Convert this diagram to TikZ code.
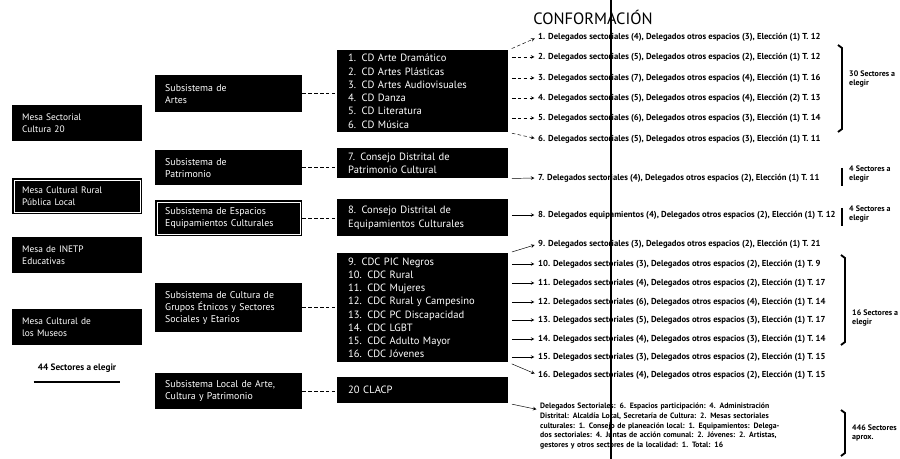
\documentclass[tikz,border=0pt]{standalone}
\usepackage{fontspec}
\setmainfont{PT Sans}

\begin{document}
\begin{tikzpicture}[x=0.03cm,y=-0.03cm,
    box/.style={fill=black,text=white,anchor=north west,align=left,inner xsep=0.3cm,inner ysep=0pt},
    mesa/.style={box,text width=3.3cm,minimum height=1.08cm,font=\fontsize{8}{9.5}\selectfont},
    subsis/.style={box,text width=3.81cm,font=\fontsize{8.4}{10.2}\selectfont},
    consejo/.style={box,inner xsep=0.33cm,text width=4.47cm,font=\fontsize{9}{11.3}\selectfont},
    row/.style={anchor=west,inner sep=0pt,font=\fontsize{7.4}{8}\selectfont\bfseries},
    cupo/.style={anchor=west,align=left,inner sep=0pt,font=\fontsize{6.8}{8}\selectfont\bfseries},
    link/.style={densely dashed,thick},
    llave/.style={line width=1.6pt}]
  \useasboundingbox (0,0) rectangle (900,459);

  % mesas
  \node[mesa] (mesa1) at (12,105) {Mesa Sectorial\\Cultura 20};
  \node[mesa] (mesa2) at (12,178) {Mesa Cultural Rural\\Pública Local};
  \node[mesa] (mesa3) at (12,237) {Mesa de INETP\\Educativas};
  \node[mesa] (mesa4) at (12,309) {Mesa Cultural de\\los Museos};
  \draw[white] ([shift={(2pt,-2pt)}]mesa2.north west) rectangle ([shift={(-2pt,2pt)}]mesa2.south east);
  \node[font=\fontsize{7.9}{9}\selectfont\bfseries] (elegir) at (77,368) {44 Sectores a elegir};
  \draw[line width=1.6pt] ([yshift=-5pt]elegir.south west) -- ([yshift=-5pt]elegir.south east);

  % subsistemas
  \node[subsis,minimum height=1.11cm] (artes) at (155,75) {Subsistema de\\Artes};
  \node[subsis,minimum height=1.05cm] (patrimonio) at (155,150) {Subsistema de\\Patrimonio};
  \node[subsis,minimum height=1.08cm] (espacios) at (155,200) {Subsistema de Espacios\\Equipamientos Culturales};
  \draw[white] ([shift={(2pt,-2pt)}]espacios.north west) rectangle ([shift={(-2pt,2pt)}]espacios.south east);
  \node[subsis,minimum height=1.47cm] (grupos) at (155,283) {Subsistema de Cultura de\\Grupos Étnicos y Sectores\\Sociales y Etarios};
  \node[subsis,minimum height=1.08cm] (local) at (155,373) {Subsistema Local de Arte,\\Cultura y Patrimonio};

  % consejos
  \node[consejo,minimum height=2.46cm] (cd) at (337,50) {1. CD Arte Dramático\\2. CD Artes Plásticas\\3. CD Artes Audiovisuales\\4. CD Danza\\5. CD Literatura\\6. CD Música};
  \node[consejo,minimum height=0.9cm] (cdpc) at (337,148) {7. Consejo Distrital de\\Patrimonio Cultural};
  \node[consejo,minimum height=1.11cm] (cdec) at (337,199) {8. Consejo Distrital de\\Equipamientos Culturales};
  \node[consejo,minimum height=3.27cm] (cdc) at (337,253) {9. CDC PIC Negros\\10. CDC Rural\\11. CDC Mujeres\\12. CDC Rural y Campesino\\13. CDC PC Discapacidad\\14. CDC LGBT\\15. CDC Adulto Mayor\\16. CDC Jóvenes};
  \node[consejo,minimum height=0.78cm] (clacp) at (337,377) {20 CLACP};

  \path[link]
    (artes.east) edge (artes.east -| cd.west)
    (patrimonio.east) edge (patrimonio.east -| cdpc.west)
    (espacios.east) edge (espacios.east -| cdec.west)
    (grupos.east) edge (grupos.east -| cdc.west)
    (local.east) edge (local.east -| clacp.west);

  % conformacion
  \node[font=\fontsize{14}{16}\selectfont] (titulo) at (593,17) {CONFORMACIÓN};
  \draw[line width=1.2pt] (611,0) -- (611,459);

  \foreach \n/\y/\txt in {
      1/37/{1. Delegados sectoriales (4), Delegados otros espacios (3), Elección (1) T. 12},
      2/57/{2. Delegados sectoriales (5), Delegados otros espacios (2), Elección (1) T. 12},
      3/78/{3. Delegados sectoriales (7), Delegados otros espacios (4), Elección (1) T. 16},
      4/98/{4. Delegados sectoriales (5), Delegados otros espacios (4), Elección (2) T. 13},
      5/118/{5. Delegados sectoriales (6), Delegados otros espacios (3), Elección (1) T. 14},
      6/139/{6. Delegados sectoriales (5), Delegados otros espacios (3), Elección (1) T. 11},
      7/178/{7. Delegados sectoriales (4), Delegados otros espacios (2), Elección (1) T. 11},
      8/215/{8. Delegados equipamientos (4), Delegados otros espacios (2), Elección (1) T. 12},
      9/244/{9. Delegados sectoriales (3), Delegados otros espacios (2), Elección (1) T. 21},
      10/264/{10. Delegados sectoriales (3), Delegados otros espacios (2), Elección (1) T. 9},
      11/283/{11. Delegados sectoriales (4), Delegados otros espacios (2), Elección (1) T. 17},
      12/302/{12. Delegados sectoriales (6), Delegados otros espacios (4), Elección (1) T. 14},
      13/320/{13. Delegados sectoriales (5), Delegados otros espacios (3), Elección (1) T. 17},
      14/339/{14. Delegados sectoriales (4), Delegados otros espacios (3), Elección (1) T. 14},
      15/357/{15. Delegados sectoriales (3), Delegados otros espacios (2), Elección (1) T. 15},
      16/375/{16. Delegados sectoriales (4), Delegados otros espacios (2), Elección (1) T. 15}}
    \node[row] (r\n) at (538,\y) {\txt};

  \node[anchor=north west,align=left,inner sep=0pt,text width=7.3cm,font=\fontsize{6.6}{8.3}\selectfont\bfseries] (para) at (540,403)
    {Delegados Sectoriales: 6. Espacios participación: 4. Administración Distrital: Alcaldía Local, Secretaría de Cultura: 2. Mesas sectoriales culturales: 1. Consejo de planeación local: 1. Equipamientos: Delegados sectoriales: 4. Juntas de acción comunal: 2. Jóvenes: 2. Artistas, gestores y otros sectores de la localidad: 1. Total: 16};

  \path[-stealth,densely dashed,shorten <=3pt,shorten >=3pt]
    (cd.north east) edge (r1.west)
    (cd.east |- r2) edge (r2.west)
    (cd.east |- r3) edge (r3.west)
    (cd.east |- r4) edge (r4.west)
    (cd.east |- r5) edge (r5.west)
    (cd.south east) edge (r6.west);
  \path[-stealth,shorten <=3pt,shorten >=3pt]
    (cdpc.south east) edge (r7.west)
    (cdec.east |- r8) edge (r8.west)
    (cdc.north east) edge (r9.west)
    (cdc.east |- r10) edge (r10.west)
    (cdc.east |- r11) edge (r11.west)
    (cdc.east |- r12) edge (r12.west)
    (cdc.east |- r13) edge (r13.west)
    (cdc.east |- r14) edge (r14.west)
    (cdc.east |- r15) edge (r15.west)
    (cdc.south east) edge (r16.west)
    (clacp.south east) edge ([yshift=-6pt]para.north west);

  % cupos
  \draw[llave] (838,45) -- (842,48) -- (842,129) -- (838,132);
  \node[cupo] (c30) at (849,79) {30 Sectores a\\elegir};
  \draw[llave] (842,168) -- (842,186);
  \node[cupo] (c4a) at (849,174) {4 Sectores a\\elegir};
  \draw[llave] (842,208) -- (842,226);
  \node[cupo] (c4b) at (849,214) {4 Sectores a\\elegir};
  \draw[llave] (841,255) -- (845,258) -- (845,342) -- (841,345);
  \node[cupo] (c16) at (852,318) {16 Sectores a\\elegir};
  \draw[llave] (841,410) -- (845,413) -- (845,453) -- (841,456);
  \node[cupo] (c446) at (852,433) {446 Sectores\\aprox.};
\end{tikzpicture}
\end{document}
